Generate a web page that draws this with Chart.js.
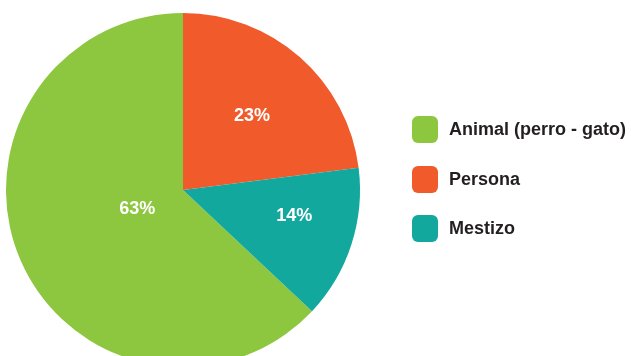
<!DOCTYPE html>
<html>
<head>
<meta charset="utf-8">
<script src="https://cdn.jsdelivr.net/npm/chart.js@4"></script>
<style>
  html, body { margin: 0; padding: 0; background: #fff; overflow: hidden; }
  body { width: 631px; height: 356px; position: relative; font-family: "Liberation Sans", Arial, sans-serif; }
  #pie { position: absolute; left: 0; top: 0; }
  #legend { position: absolute; left: 412px; top: 116px; margin: 0; padding: 0; list-style: none; }
  #legend li { display: flex; align-items: center; height: 27px; margin-bottom: 22.5px; }
  #legend .box { width: 26px; height: 27px; border-radius: 6px; margin-right: 11px; }
  #legend .txt { font-weight: bold; font-size: 18px; color: #231f20; white-space: nowrap; }
</style>
</head>
<body>
<canvas id="pie" width="631" height="380"></canvas>
<ul id="legend"></ul>
<script>
const categories = ['Animal (perro - gato)', 'Persona', 'Mestizo'];
const shares = [63, 23, 14];
const sliceColors = ['#8dc63f', '#f15a2b', '#13a89e'];

// where each percentage sits: fraction of the radius, and a small turn (degrees) off the slice middle
const labelRadius = [0.28, 0.57, 0.645];
const labelTurn = [1, 1.8, -4.8];

const total = shares.reduce((a, b) => a + b, 0);

const pctLabels = {
  id: 'pctLabels',
  afterDatasetsDraw(chart) {
    const c = chart.ctx;
    const arcs = chart.getDatasetMeta(0).data;
    c.save();
    c.fillStyle = '#fff';
    c.font = 'bold 18px "Liberation Sans", Arial, sans-serif';
    c.textAlign = 'center';
    c.textBaseline = 'middle';
    arcs.forEach((arc, i) => {
      const p = arc.getProps(['x', 'y', 'startAngle', 'endAngle', 'outerRadius'], true);
      const mid = (p.startAngle + p.endAngle) / 2 + labelTurn[i] * Math.PI / 180;
      const r = p.outerRadius * labelRadius[i];
      c.fillText(shares[i] + '%', p.x + Math.cos(mid) * r, p.y + Math.sin(mid) * r);
    });
    c.restore();
  }
};

const pieChart = new Chart(document.getElementById('pie'), {
  type: 'pie',
  data: {
    labels: categories,
    datasets: [{
      data: shares,
      backgroundColor: sliceColors,
      borderWidth: 0
    }]
  },
  options: {
    responsive: false,
    animation: false,
    // start the first slice so that the second one begins at 12 o'clock
    rotation: -360 * shares[0] / total,
    layout: { padding: { left: 6, top: 13, right: 271, bottom: 13 } },
    plugins: {
      legend: { display: false },
      tooltip: { enabled: false }
    }
  },
  plugins: [pctLabels]
});

// legend on the right, built from the same arrays
const legend = document.getElementById('legend');
categories.forEach((name, i) => {
  const li = document.createElement('li');
  const box = document.createElement('span');
  box.className = 'box';
  box.style.background = sliceColors[i];
  const txt = document.createElement('span');
  txt.className = 'txt';
  txt.textContent = name;
  li.appendChild(box);
  li.appendChild(txt);
  legend.appendChild(li);
});
</script>
</body>
</html>
